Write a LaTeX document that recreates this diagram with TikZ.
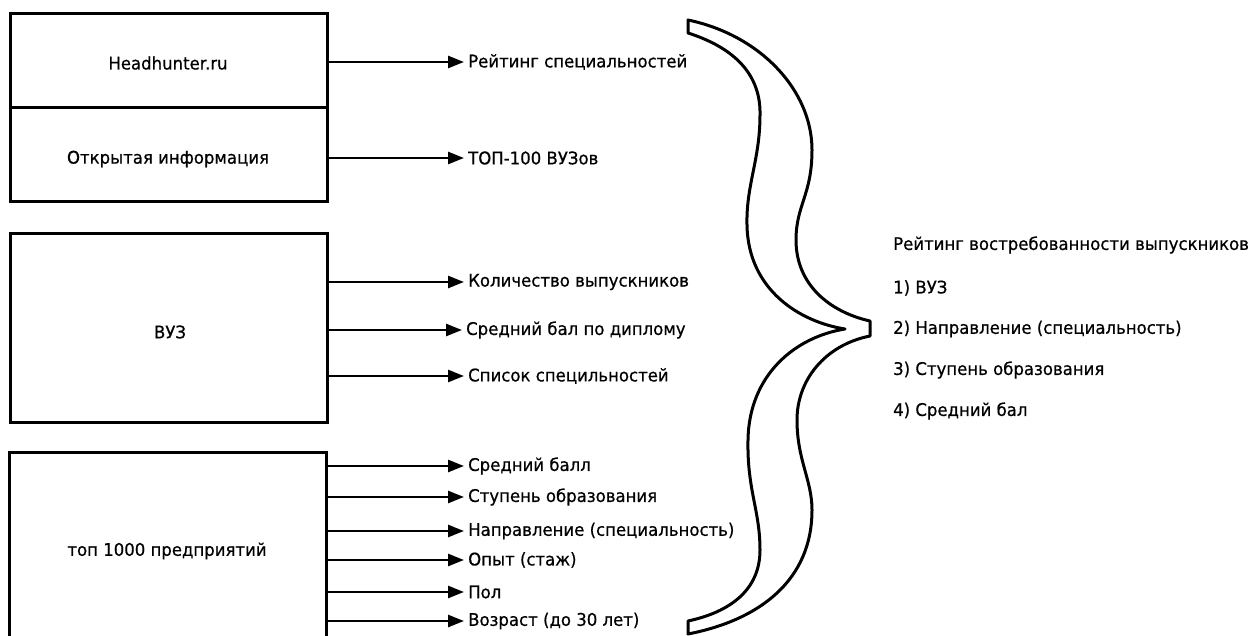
\documentclass[tikz,border=0pt]{standalone}
\usepackage{fontspec}
\setmainfont{DejaVu Sans}[FakeStretch=0.95,FakeBold=0.6]
\usetikzlibrary{arrows.meta}
\begin{document}
\begin{tikzpicture}[x=1pt,y=-1pt,
  box/.style={draw, line width=3pt, minimum width=317pt, inner sep=0pt},
  txt/.style={inner sep=0pt, font=\fontsize{17.4}{20}\selectfont},
  lbl/.style={anchor=west, inner sep=0pt, font=\fontsize{17.4}{20}\selectfont},
  arr/.style={line width=2.5pt, shorten >=4pt, -{Triangle[length=16pt,width=12pt]}},
  bracestyle/.style={draw, line width=3pt, line join=round}
]
\clip (0,0) rectangle (1256,636);
\fill[white] (0,0) rectangle (1256,636);

% boxes
\node[box, minimum height=94pt] (hh) at (168.5,61) {};
\node[box, minimum height=94pt] (oi) at (168.5,155) {};
\node[box, minimum height=188pt] (vuz) at (169,328) {};
\node[box, minimum height=196pt] (top) at (168,550) {};
\node[txt] (hhT) at (168,63) {Headhunter.ru};
\node[txt] (oiT) at (168,159) {Открытая информация};
\node[txt] (vuzT) at (170,332) {ВУЗ};
\node[txt] (topT) at (167,551) {топ 1000 предприятий};

% labels
\node[lbl] (r1) at (468,62) {Рейтинг специальностей};
\node[lbl] (r2) at (468,158) {ТОП-100 ВУЗов};
\node[lbl] (v1) at (468,282) {Количество выпускников};
\node[lbl] (v2) at (466,330) {Средний бал по диплому};
\node[lbl] (v3) at (468,376) {Список специльностей};
\node[lbl] (t1) at (468,466) {Средний балл};
\node[lbl] (t2) at (468,497) {Ступень образования};
\node[lbl] (t3) at (468,531) {Направление (специальность)};
\node[lbl] (t4) at (468,560) {Опыт (стаж)};
\node[lbl] (t5) at (468,592) {Пол};
\node[lbl] (t6) at (468,621) {Возраст (до 30 лет)};

% arrows
\draw[arr] (r1.west -| hh.east) -- (r1.west);
\draw[arr] (r2.west -| oi.east) -- (r2.west);
\draw[arr] (v1.west -| vuz.east) -- (v1.west);
\draw[arr] (v2.west -| vuz.east) -- (v2.west);
\draw[arr] (v3.west -| vuz.east) -- (v3.west);
\draw[arr] (t1.west -| top.east) -- (t1.west);
\draw[arr] (t2.west -| top.east) -- (t2.west);
\draw[arr] (t3.west -| top.east) -- (t3.west);
\draw[arr] (t4.west -| top.east) -- (t4.west);
\draw[arr] (t5.west -| top.east) -- (t5.west);
\draw[arr] (t6.west -| top.east) -- (t6.west);

% brace
\draw[bracestyle] (688,20)
  .. controls (760,35) and (812,90) .. (812,150)
  .. controls (812,195) and (796,205) .. (796,240)
  .. controls (796,285) and (830,312) .. (870,321)
  -- (870,336)
  .. controls (825,345) and (797,380) .. (797,420)
  .. controls (797,460) and (812,480) .. (812,510)
  .. controls (812,580) and (760,620) .. (688,634)
  -- (688,621)
  .. controls (730,612) and (760,590) .. (760,550)
  .. controls (760,510) and (747,490) .. (748,440)
  .. controls (749,375) and (795,337) .. (845,329)
  .. controls (800,322) and (748,290) .. (747,225)
  .. controls (746,185) and (760,160) .. (760,115)
  .. controls (761,75) and (735,48) .. (688,33)
  -- cycle;

% result text
\node[lbl] (res) at (893,245) {Рейтинг востребованности выпускников};
\node[lbl] (res1) at (893,288) {1) ВУЗ};
\node[lbl] (res2) at (893,329) {2) Направление (специальность)};
\node[lbl] (res3) at (893,370) {3) Ступень образования};
\node[lbl] (res4) at (893,411) {4) Средний бал};
\end{tikzpicture}
\end{document}
